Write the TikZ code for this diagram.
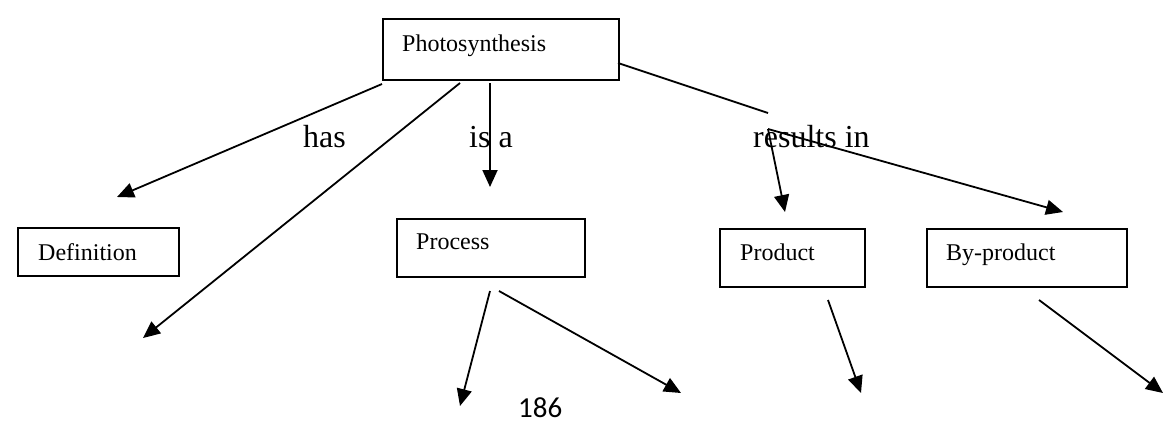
\documentclass[tikz,border=0pt]{standalone}
\usepackage{fontspec}
\setmainfont{Liberation Serif}
\newfontfamily\pagenumfont{Carlito}
\usetikzlibrary{arrows.meta}
\begin{document}
\begin{tikzpicture}[x=1pt,y=-1pt,
  conceptbox/.style={draw,line width=2.2pt,anchor=north west,inner sep=0pt},
  boxtext/.style={anchor=base west,inner sep=0pt,font=\fontsize{24}{28}\selectfont},
  linktext/.style={anchor=base west,inner sep=0pt,font=\fontsize{32}{36}\selectfont},
  link/.style={line width=1.8pt},
  arrowlink/.style={link,-{Triangle[length=17pt,width=15pt]}}]
\useasboundingbox (0,0) rectangle (1174,434);

% concept boxes
\node[conceptbox,minimum width=236pt,minimum height=61pt] (ps) at (382,18) {};
\node[boxtext] (pstext) at (402,51) {Photosynthesis};
\node[conceptbox,minimum width=161pt,minimum height=48pt] (def) at (17,227) {};
\node[boxtext] (deftext) at (38,260) {Definition};
\node[conceptbox,minimum width=188pt,minimum height=58pt] (proc) at (396,218) {};
\node[boxtext] (proctext) at (416,249) {Process};
\node[conceptbox,minimum width=145pt,minimum height=58pt] (prod) at (719,228) {};
\node[boxtext] (prodtext) at (740,260) {Product};
\node[conceptbox,minimum width=200pt,minimum height=58pt] (byp) at (926,228) {};
\node[boxtext] (byptext) at (946,260) {By-product};

% link words
\node[linktext] (has) at (303,147) {has};
\node[linktext] (isa) at (469,147) {is a};
\node[linktext] (res) at (753,147) {results in};

% page number
\node[anchor=base west,inner sep=0pt,font=\pagenumfont\fontsize{29}{32}\selectfont] (pagenum) at (518,417) {186};

% connector end points
\coordinate (hasS) at (382,84);
\coordinate (hasE) at (117,197);
\coordinate (diagS) at (460,83);
\coordinate (diagE) at (143,338);
\coordinate (isaS) at (490,83);
\coordinate (isaE) at (490,187);
\coordinate (resS) at (618,63);
\coordinate (resM) at (768,113);
\coordinate (resB) at (768,129);
\coordinate (prodE) at (785,212);
\coordinate (bypE) at (1063,212);
\coordinate (procS1) at (490,291);
\coordinate (procE1) at (460,406);
\coordinate (procS2) at (499,291);
\coordinate (procE2) at (681,393);
\coordinate (prodS) at (828,300);
\coordinate (prodD) at (861,393);
\coordinate (bypS) at (1039,300);
\coordinate (bypD) at (1163,393);

% connectors
\draw[arrowlink] (hasS) -- (hasE);
\draw[arrowlink] (diagS) -- (diagE);
\draw[arrowlink] (isaS) -- (isaE);
\draw[link] (resS) -- (resM);
\draw[arrowlink] (resB) -- (prodE);
\draw[arrowlink] (resB) -- (bypE);
\draw[arrowlink] (procS1) -- (procE1);
\draw[arrowlink] (procS2) -- (procE2);
\draw[arrowlink] (prodS) -- (prodD);
\draw[arrowlink] (bypS) -- (bypD);
\end{tikzpicture}
\end{document}
